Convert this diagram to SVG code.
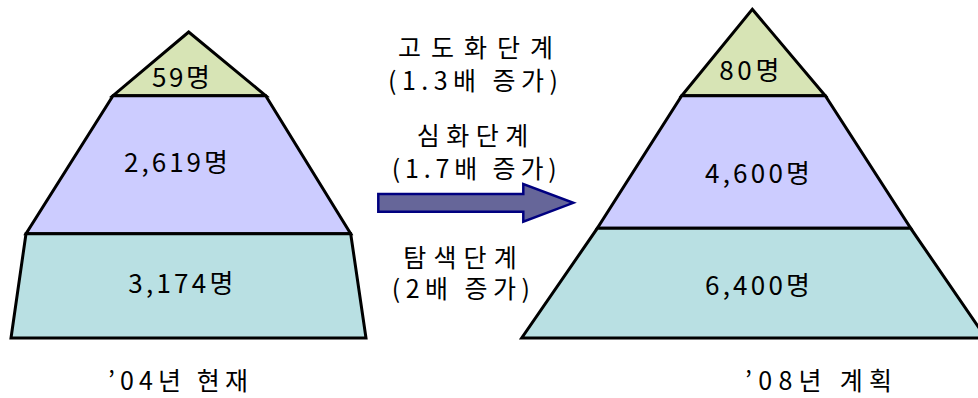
<svg xmlns="http://www.w3.org/2000/svg" width="978" height="398" viewBox="0 0 978 398">
<style>
.tier{stroke:#000;stroke-width:3;stroke-linejoin:miter}
.g{fill:#D7E4B5}
.p{fill:#CCCCFF}
.c{fill:#B9E0E3}
text{font-family:"Noto Sans CJK KR","Noto Sans",sans-serif;fill:#000}
.lbl{font-size:26px}
.cap{font-size:25px}
.mid{font-size:25px}
</style>
<rect width="978" height="398" fill="#fff"/>
<g id="left-pyramid">
<g id="l-top"><polygon class="tier g" points="188.7,32 113,95.7 265.7,95.7"/><text class="lbl" x="152" y="86.5" textLength="58" lengthAdjust="spacing">59명</text></g>
<g id="l-mid"><polygon class="tier p" points="113,95.7 265.7,95.7 350.7,233.7 26,233.7"/><text class="lbl" x="124" y="171.5" textLength="104" lengthAdjust="spacing">2,619명</text></g>
<g id="l-bot"><polygon class="tier c" points="26,233.7 350.7,233.7 366,338 11,338"/><text class="lbl" x="128.3" y="293" textLength="105" lengthAdjust="spacing">3,174명</text></g>
<g id="l-caption"><text class="cap" x="108" y="390" textLength="140" lengthAdjust="spacing">’04년 현재</text></g>
</g>
<g id="right-pyramid">
<g id="r-top"><polygon class="tier g" points="752.3,9.3 825.3,95.7 681.7,95.7"/><text class="lbl" x="719.3" y="80" textLength="60" lengthAdjust="spacing">80명</text></g>
<g id="r-mid"><polygon class="tier p" points="681.7,95.7 825.3,95.7 910.7,228.3 597.3,228.3"/><text class="lbl" x="705" y="183" textLength="105" lengthAdjust="spacing">4,600명</text></g>
<g id="r-bot"><polygon class="tier c" points="597.3,228.3 910.7,228.3 986,338 521.7,338"/><text class="lbl" x="705" y="295" textLength="105" lengthAdjust="spacing">6,400명</text></g>
<g id="r-caption"><text class="cap" x="745" y="390" textLength="147" lengthAdjust="spacing">’08년 계획</text></g>
</g>
<g id="stages">
<g id="stage-advanced"><text class="mid" x="398" y="57" textLength="155" lengthAdjust="spacing">고도화단계</text><text class="mid" x="388" y="90" textLength="170" lengthAdjust="spacing">(1.3배 증가)</text></g>
<g id="stage-deep"><text class="mid" x="416.7" y="145" textLength="111.6" lengthAdjust="spacing">심화단계</text><text class="mid" x="391.7" y="178" textLength="165" lengthAdjust="spacing">(1.7배 증가)</text></g>
<g id="stage-explore"><text class="mid" x="403.3" y="267" textLength="113.4" lengthAdjust="spacing">탐색단계</text><text class="mid" x="391.7" y="298" textLength="138.3" lengthAdjust="spacing">(2배 증가)</text></g>
</g>
<g id="connectors">
<polygon points="378.3,194 523.3,194 523.3,184 573.3,202.8 523.3,221.7 523.3,211.7 378.3,211.7" fill="#666699" stroke="#000080" stroke-width="2.5" stroke-linejoin="miter"/>
</g>
</svg>
